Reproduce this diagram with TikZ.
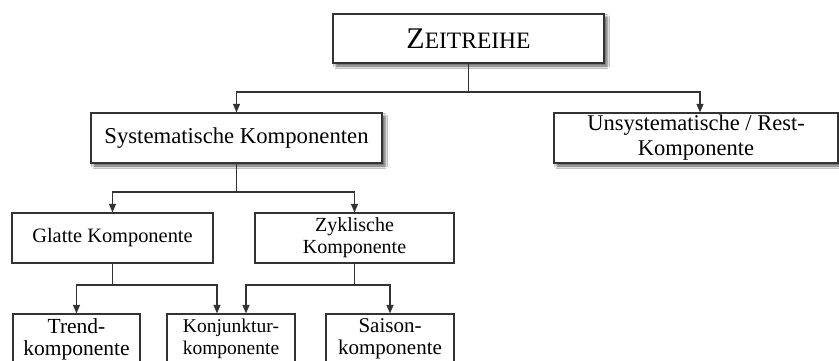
\documentclass[tikz,border=0pt]{standalone}
\usepackage{fontspec}
\setmainfont{Liberation Serif}
\usetikzlibrary{arrows.meta,shadows.blur}
\begin{document}
\begin{tikzpicture}[x=1pt,y=-1pt,
  box/.style={draw=black!80,line width=1.2pt,fill=white,rectangle,inner sep=0pt,align=center,text=black},
  shad/.style={blur shadow={shadow xshift=3pt,shadow yshift=-3pt,shadow blur radius=2.5pt,shadow opacity=65}},
  ln/.style={draw=black!80,line width=1.2pt},
  arr/.style={ln,-{Triangle[length=8.5pt,width=7pt]}}]
\useasboundingbox (0,0) rectangle (839,360);
\fill[white] (0,0) rectangle (839,360);
\node[box,shad,minimum width=271pt,minimum height=49pt] (zr) at (468.5,38.5)
  {{\fontsize{30}{30}\selectfont Z}{\fontsize{23.5}{23.5}\selectfont EITREIHE}};
\node[box,shad,minimum width=291pt,minimum height=50pt,font=\fontsize{22.7}{25}\selectfont] (sys) at (236.5,138) {Systematische Komponenten};
\node[box,shad,minimum width=284pt,minimum height=50pt,font=\fontsize{22.5}{25}\selectfont] (uns) at (696,138) {Unsystematische / Rest-\\Komponente};
\node[box,minimum width=201pt,minimum height=50pt,font=\fontsize{20.4}{22}\selectfont] (gl) at (112.5,238) {Glatte Komponente};
\node[box,minimum width=199pt,minimum height=50pt,font=\fontsize{20}{22}\selectfont] (zy) at (354.5,238) {Zyklische\\Komponente};
\node[box,minimum width=127pt,minimum height=50pt,font=\fontsize{21.5}{22}\selectfont] (tr) at (76.5,339) {Trend-\\komponente};
\node[box,minimum width=128pt,minimum height=50pt,font=\fontsize{19.5}{22}\selectfont] (ko) at (231,339) {Konjunktur-\\komponente};
\node[box,minimum width=128pt,minimum height=50pt,font=\fontsize{21}{22}\selectfont] (sa) at (390,339) {Saison-\\komponente};
\coordinate (h1) at (0,92);
\coordinate (h2) at (0,192);
\coordinate (h3) at (0,285);
\coordinate (j1) at (zr |- h1);
\coordinate (j2) at (sys |- h2);
\coordinate (j3) at (gl |- h3);
\coordinate (j4) at (zy |- h3);
\draw[ln] (zr) -- (j1);
\draw[arr] (j1) -| (sys.north);
\draw[arr] (j1) -| ([xshift=4pt]uns.north);
\draw[ln] (sys) -- (j2);
\draw[arr] (j2) -| (gl.north);
\draw[arr] (j2) -| (zy.north);
\draw[ln] (gl) -- (j3);
\draw[arr] (j3) -| (tr.north);
\draw[arr] (j3) -| ([xshift=-14pt]ko.north);
\draw[ln] (zy) -- (j4);
\draw[arr] (j4) -| ([xshift=15pt]ko.north);
\draw[arr] (j4) -| (sa.north);
\end{tikzpicture}
\end{document}
